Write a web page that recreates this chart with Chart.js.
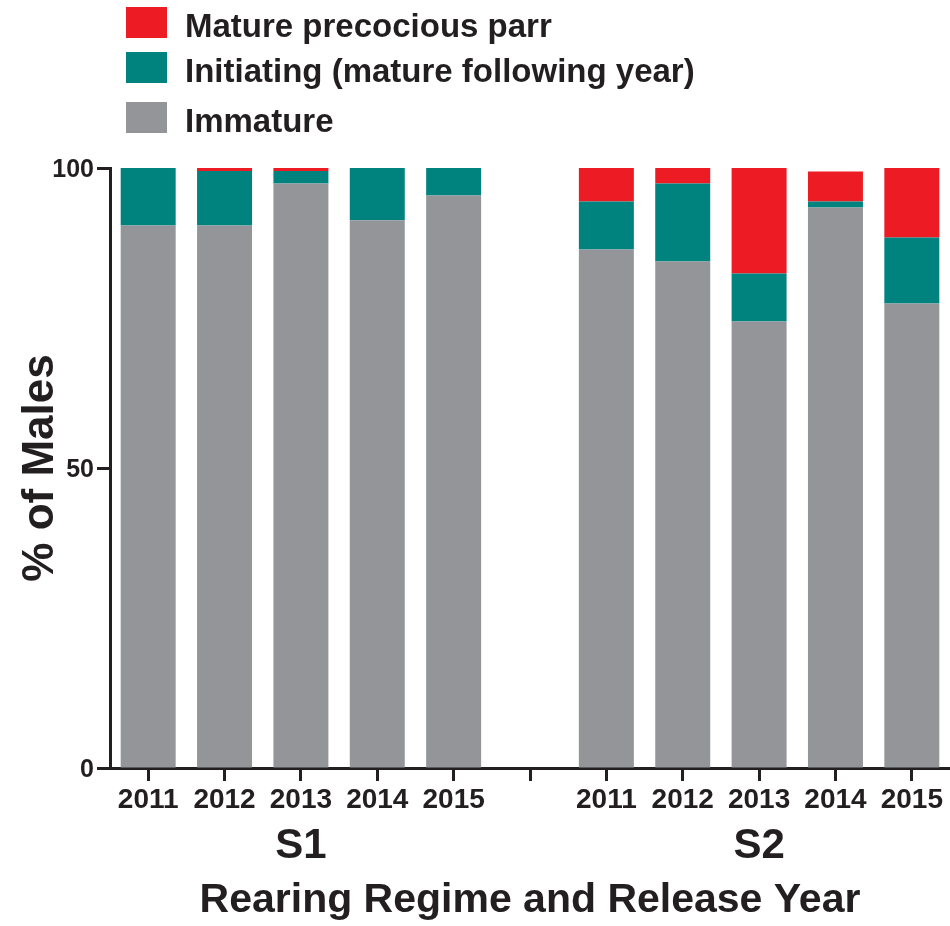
<!DOCTYPE html>
<html>
<head>
<meta charset="utf-8">
<script src="https://cdn.jsdelivr.net/npm/chart.js@4.4.1/dist/chart.umd.min.js"></script>
<style>
  html, body { margin: 0; padding: 0; background: #fff; }
  canvas { display: block; }
</style>
</head>
<body>
<canvas id="chart" width="950" height="926"></canvas>
<script>
// categories: S1 years, one empty slot as a gap, then S2 years
const years = ['2011', '2012', '2013', '2014', '2015', '', '2011', '2012', '2013', '2014', '2015'];
const groups = [{ label: 'S1', center: 2 }, { label: 'S2', center: 8 }];

// % of males per category
const immature   = [90.4, 90.4, 97.4, 91.3, 95.4, null, 86.4, 84.4, 74.4, 93.4, 77.4];
const initiating = [9.6, 9.1, 2.1, 8.7, 4.6, null, 8.0, 13.0, 8.0, 1.0, 11.0];
const mature     = [0, 0.5, 0.5, 0, 0, null, 5.6, 2.6, 17.6, 5.0, 11.6];

const yTicks = [0, 50, 100];

const RED = '#ED1C24';
const TEAL = '#00827F';
const GRAY = '#939598';
const INK = '#231F20';
const FONT = '"Liberation Sans", Arial, sans-serif';

const legendItems = [
  { label: 'Mature precocious parr', color: RED },
  { label: 'Initiating (mature following year)', color: TEAL },
  { label: 'Immature', color: GRAY }
];

const annotations = {
  id: 'annotations',
  afterDraw(chart) {
    const ctx = chart.ctx;
    const area = chart.chartArea;
    const x = chart.scales.x;
    const y = chart.scales.y;
    ctx.save();
    ctx.fillStyle = INK;
    ctx.textBaseline = 'alphabetic';

    // legend
    ctx.font = 'bold 33px ' + FONT;
    ctx.textAlign = 'left';
    const rows = [{ top: 7, base: 37 }, { top: 52, base: 82 }, { top: 102, base: 132 }];
    legendItems.forEach((item, i) => {
      ctx.fillStyle = item.color;
      ctx.fillRect(126, rows[i].top, 41, 31);
      ctx.fillStyle = INK;
      ctx.fillText(item.label, 185, rows[i].base);
    });

    // y tick labels
    ctx.font = 'bold 25px ' + FONT;
    ctx.textAlign = 'right';
    yTicks.forEach(v => {
      ctx.fillText(String(v), 94, y.getPixelForValue(v) + 9);
    });

    // x tick labels
    ctx.font = 'bold 28px ' + FONT;
    ctx.textAlign = 'center';
    years.forEach((lab, i) => {
      if (lab) ctx.fillText(lab, x.getPixelForValue(i), 808);
    });

    // group labels
    ctx.font = 'bold 42px ' + FONT;
    groups.forEach(g => {
      ctx.fillText(g.label, x.getPixelForValue(g.center), 858);
    });

    // x title
    ctx.font = 'bold 41px ' + FONT;
    ctx.fillText('Rearing Regime and Release Year', (area.left + area.right) / 2, 912);

    // y title
    ctx.translate(53, (area.top + area.bottom) / 2);
    ctx.rotate(-Math.PI / 2);
    ctx.font = 'bold 44px ' + FONT;
    ctx.fillText('% of Males', 0, 0);
    ctx.restore();
  }
};

new Chart(document.getElementById('chart'), {
  type: 'bar',
  data: {
    labels: years,
    datasets: [
      { label: 'Immature', data: immature, backgroundColor: GRAY },
      { label: 'Initiating (mature following year)', data: initiating, backgroundColor: TEAL },
      { label: 'Mature precocious parr', data: mature, backgroundColor: RED }
    ]
  },
  options: {
    responsive: false,
    animation: false,
    layout: { padding: { top: 168, left: 0, right: 0, bottom: 0 } },
    datasets: {
      bar: { categoryPercentage: 1, barPercentage: 0.72, borderWidth: 0 }
    },
    plugins: {
      legend: { display: false },
      tooltip: { enabled: false }
    },
    scales: {
      x: {
        stacked: true,
        afterFit(scale) { scale.height = 158; },
        border: { display: true, color: INK, width: 3 },
        grid: {
          offset: false,
          drawOnChartArea: false,
          drawTicks: true,
          tickLength: 13,
          tickWidth: 3,
          tickColor: INK
        },
        // labels are drawn by the annotations plugin
        ticks: { color: 'rgba(0,0,0,0)', autoSkip: false, maxRotation: 0 }
      },
      y: {
        stacked: true,
        min: 0,
        max: 100,
        afterFit(scale) { scale.width = 110; },
        afterBuildTicks(scale) { scale.ticks = yTicks.map(v => ({ value: v })); },
        border: { display: true, color: INK, width: 3 },
        grid: {
          drawOnChartArea: false,
          drawTicks: true,
          tickLength: 13,
          tickWidth: 3,
          tickColor: INK
        },
        ticks: { color: 'rgba(0,0,0,0)' }
      }
    }
  },
  plugins: [annotations]
});
</script>
</body>
</html>
